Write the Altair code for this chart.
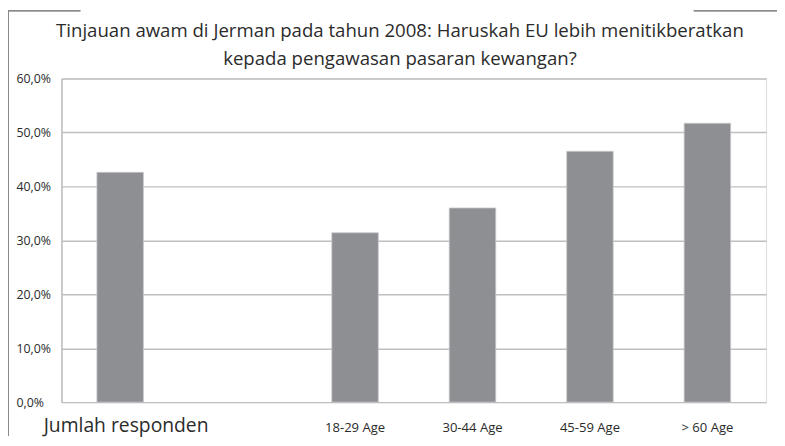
import altair as alt
import pandas as pd

# ---- data ----
slots = ["Jumlah responden", " ", "18-29 Age", "30-44 Age", "45-59 Age", "> 60 Age"]
categories = ["Jumlah responden", "18-29 Age", "30-44 Age", "45-59 Age", "> 60 Age"]
values = [0.426, 0.314, 0.360, 0.465, 0.517]
y_ticks = [0.0, 0.1, 0.2, 0.3, 0.4, 0.5, 0.6]
title_lines = [
    "Tinjauan awam di Jerman pada tahun 2008: Haruskah EU lebih menitikberatkan",
    "kepada pengawasan pasaran kewangan?",
]

df = pd.DataFrame({"kategori": categories, "nilai": values})

FONT = "Open Sans"
TXT = "#2b2b2b"
GRID = "#bfbfc2"

PW, PH = 712, 327
PAD = {"left": 54, "top": 69, "right": 11, "bottom": 34}

x_enc = alt.X(
    "kategori:N",
    scale=alt.Scale(domain=slots, paddingInner=0.604, paddingOuter=0.302),
    sort=slots,
    axis=alt.Axis(
        title=None,
        labelAngle=0,
        ticks=False,
        tickSize=0,
        domain=False,
        grid=False,
        labelFont=FONT,
        labelColor=TXT,
        labelBaseline="alphabetic",
        labelPadding=30,
        labelFontSize={"condition": {"test": "datum.value == 'Jumlah responden'", "value": 19.5}, "value": 13.2},
        labelOffset={"condition": {"test": "datum.value == 'Jumlah responden'", "value": 6}, "value": 0},
    ),
)

y_enc = alt.Y(
    "nilai:Q",
    scale=alt.Scale(domain=[0, 0.6], nice=False),
    axis=alt.Axis(
        title=None,
        values=y_ticks,
        labelExpr="replace(format(datum.value, '.1%'), '.', ',')",
        labelAlign="left",
        labelBaseline="middle",
        labelPadding=46,
        ticks=False,
        tickSize=0,
        domain=True,
        domainColor=GRID,
        domainWidth=1.5,
        gridColor=GRID,
        gridWidth=1.5,
        labelFont=FONT,
        labelFontSize=12.5,
        labelColor=TXT,
    ),
)

bars = alt.Chart(df).mark_bar(color="#8e8f93", stroke="#c9c9cb", strokeWidth=0.8).encode(x=x_enc, y=y_enc)

# decorative frame (partially hidden behind the title), as in the reference
frame_color = "#8a8a8a"
frame_left = alt.Chart(df).mark_rule(color=frame_color, strokeWidth=1).encode(
    x=alt.value(-53.5), y=alt.value(-68.5), y2=alt.value(PH + PAD["bottom"])
)
frame_top_l = alt.Chart(df).mark_rule(color=frame_color, strokeWidth=1).encode(
    x=alt.value(-53.5), x2=alt.value(19), y=alt.value(-68.5)
)
frame_top_r = alt.Chart(df).mark_rule(color=frame_color, strokeWidth=1).encode(
    x=alt.value(639), x2=alt.value(PW + PAD["right"]), y=alt.value(-68.5)
)

chart = (
    alt.layer(bars, frame_left, frame_top_l, frame_top_r)
    .properties(
        width=PW,
        height=PH,
        padding=PAD,
        autosize=alt.AutoSizeParams(type="none"),
        title=alt.TitleParams(
            text=title_lines,
            font=FONT,
            fontSize=18.8,
            fontWeight="normal",
            color=TXT,
            lineHeight=28,
            anchor="middle",
            baseline="alphabetic",
            dx=-14,
            dy=74,
            offset=0,
        ),
    )
    .configure_view(stroke=None)
    .configure(background="white")
)

chart.save("out.html", embed_options={"renderer": "svg", "actions": False})
